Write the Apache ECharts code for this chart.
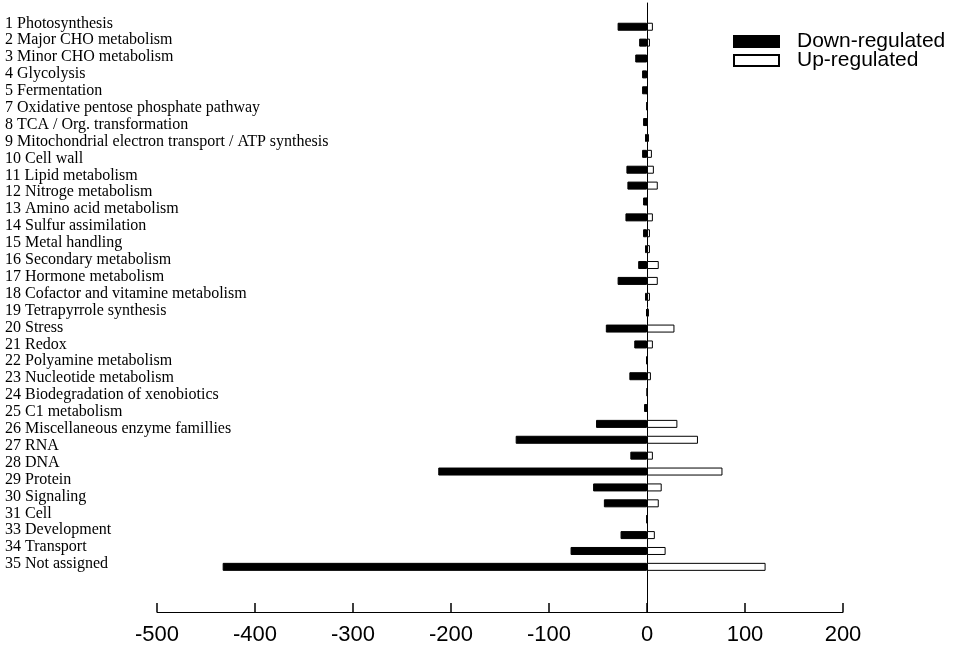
<!DOCTYPE html>
<html>
<head>
<meta charset="utf-8">
<script src="https://cdn.jsdelivr.net/npm/echarts@6/dist/echarts.min.js"></script>
<style>
  html, body { margin: 0; padding: 0; background: #fff; }
  #main { width: 964px; height: 646px; }
</style>
</head>
<body>
<div id="main"></div>
<script>
// category rows (35 bins, 6 and 32 are empty)
var rows = [];
for (var i = 1; i <= 35; i++) rows.push(String(i));

// text list on the left (only the 33 non-empty bins)
var labels = [
  '1 Photosynthesis', '2 Major CHO metabolism', '3 Minor CHO metabolism',
  '4 Glycolysis', '5 Fermentation', '7 Oxidative pentose phosphate pathway',
  '8 TCA / Org. transformation', '9 Mitochondrial electron transport / ATP synthesis',
  '10 Cell wall', '11 Lipid metabolism', '12 Nitroge metabolism',
  '13 Amino acid metabolism', '14 Sulfur assimilation', '15 Metal handling',
  '16 Secondary metabolism', '17 Hormone metabolism',
  '18 Cofactor and vitamine metabolism', '19 Tetrapyrrole synthesis',
  '20 Stress', '21 Redox', '22 Polyamine metabolism', '23 Nucleotide metabolism',
  '24 Biodegradation of xenobiotics', '25 C1 metabolism',
  '26 Miscellaneous enzyme famillies', '27 RNA', '28 DNA', '29 Protein',
  '30 Signaling', '31 Cell', '33 Development', '34 Transport', '35 Not assigned'
];

var down = [-30, -8, -12, -5, -5, 0, -4, -2, -5, -21, -20, -4, -22, -4, -2, -9, -30, -2,
            -1, -42, -13, -1, -18, 0, -3, -52, -134, -17, -213, -55, -44, 0, -27, -78, -433];
var up = [6, 3, 1, 1, 0, 0, 0, 2, 5, 7, 11, 0, 6, 3, 3, 12, 11, 3,
          2, 28, 6, 0, 4, 1, 0, 31, 52, 6, 77, 15, 12, 0, 8, 19, 121];

var xTicks = { min: -500, max: 200, interval: 100 };

var myChart = echarts.init(document.getElementById('main'));
var option = {
  animation: false,
  backgroundColor: '#fff',
  legend: {
    data: ['Down-regulated', 'Up-regulated'],
    orient: 'vertical',
    left: 728,
    top: 26,
    icon: 'rect',
    itemWidth: 45,
    itemHeight: 11,
    itemGap: -2,
    textStyle: {
      fontFamily: 'Liberation Sans',
      fontSize: 21,
      color: '#000',
      padding: [0, 0, 0, 13]
    }
  },
  grid: [
    { left: 157, right: 121, top: 3, height: 610 },
    { left: 157, right: 121, top: 18.8, height: 556 },
    { left: 10, width: 100, top: 14.85, height: 557.6 }
  ],
  xAxis: [
    {
      gridIndex: 0, type: 'value',
      min: xTicks.min, max: xTicks.max, interval: xTicks.interval,
      axisLine: { show: true, lineStyle: { color: '#000', width: 1 } },
      axisTick: { show: true, inside: true, length: 9, lineStyle: { color: '#000', width: 1.5 } },
      axisLabel: { fontFamily: 'Liberation Sans', fontSize: 22, color: '#000', margin: 12 },
      splitLine: { show: false }
    },
    { gridIndex: 1, type: 'value', min: xTicks.min, max: xTicks.max, show: false },
    { gridIndex: 2, type: 'value', min: 0, max: 1, show: false }
  ],
  yAxis: [
    {
      gridIndex: 0, type: 'value', min: 0, max: 1,
      axisLine: { show: true, onZero: true, lineStyle: { color: '#000', width: 1 } },
      axisTick: { show: false }, axisLabel: { show: false }, splitLine: { show: false }
    },
    { gridIndex: 1, type: 'category', inverse: true, data: rows, show: false },
    {
      gridIndex: 2, type: 'category', inverse: true, data: labels,
      axisLine: { show: false }, axisTick: { show: false },
      axisLabel: {
        interval: 0, align: 'left', margin: 5,
        fontFamily: 'Liberation Serif', fontSize: 16, color: '#000'
      }
    }
  ],
  series: [
    {
      name: 'Down-regulated', type: 'bar',
      xAxisIndex: 1, yAxisIndex: 1,
      data: down, barWidth: 8, barGap: '-100%',
      itemStyle: { color: '#000', borderColor: '#000', borderWidth: 1 }
    },
    {
      name: 'Up-regulated', type: 'bar',
      xAxisIndex: 1, yAxisIndex: 1,
      data: up, barWidth: 8, barGap: '-100%',
      itemStyle: { color: '#fff', borderColor: '#000', borderWidth: 1 }
    }
  ]
};
myChart.setOption(option);
</script>
</body>
</html>
